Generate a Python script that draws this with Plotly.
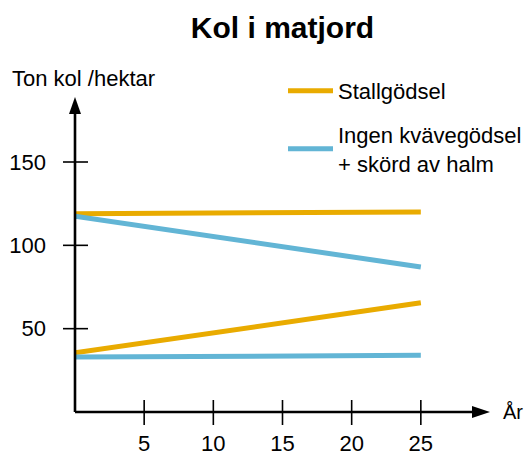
import plotly.graph_objects as go

# ---- data ----
years = [0, 25]
stallgodsel_upper = [119, 120]
stallgodsel_lower = [35.5, 65.5]
ingen_upper = [117.5, 87]
ingen_lower = [33, 34]
x_ticks = [5, 10, 15, 20, 25]
y_ticks = [50, 100, 150]
series_names = ["Stallgödsel", "Ingen kvävegödsel<br>+ skörd av halm"]

ORANGE = "#E9AB00"
BLUE = "#62B5D5"
FONT = "Liberation Sans, Arial, sans-serif"

fig = go.Figure()
fig.add_trace(go.Scatter(
    x=years + [None] + years,
    y=stallgodsel_upper + [None] + stallgodsel_lower,
    mode="lines", line=dict(color=ORANGE, width=5),
    name=series_names[0], legendgroup="a", connectgaps=False))
fig.add_trace(go.Scatter(
    x=years + [None] + years,
    y=ingen_upper + [None] + ingen_lower,
    mode="lines", line=dict(color=BLUE, width=5),
    name=series_names[1], legendgroup="b", connectgaps=False))

X_MAX = 30
Y_MAX = 189

# body margin removed below, figure drawn at (0, 0)
W, H = 526, 454
L, R, T, B = 75, 36, 97, 42
PW, PH = W - L - R, H - T - B
OFF = 0


def px_x(sx):  # screen x -> paper
    return (sx - OFF - L) / PW


def px_y(sy):  # screen y -> paper
    return (H - B - (sy - OFF)) / PH


shapes = []
for v in x_ticks:
    shapes.append(dict(type="line", xref="paper", yref="paper", x0=v / X_MAX, x1=v / X_MAX,
                       ysizemode="pixel", yanchor=0, y0=-13, y1=12,
                       line=dict(color="black", width=1.6)))
for v in y_ticks:
    shapes.append(dict(type="line", xref="paper", yref="paper", y0=v / Y_MAX, y1=v / Y_MAX,
                       xsizemode="pixel", xanchor=0, x0=-12, x1=13,
                       line=dict(color="black", width=1.6)))
shapes.append(dict(type="line", xref="paper", yref="paper", x0=0, x1=0.98, y0=0, y1=0,
                   line=dict(color="black", width=2.6)))
shapes.append(dict(type="line", xref="paper", yref="paper", x0=0, x1=0, y0=0, y1=0.98,
                   line=dict(color="black", width=2.6)))
shapes.append(dict(type="path", xref="paper", yref="paper", xsizemode="pixel", ysizemode="pixel",
                   xanchor=1, yanchor=0, path="M0,0 L-18,6 L-18,-6 Z",
                   fillcolor="black", line=dict(width=0)))
shapes.append(dict(type="path", xref="paper", yref="paper", xsizemode="pixel", ysizemode="pixel",
                   xanchor=0, yanchor=1, path="M0,0 L-6,-17 L6,-17 Z",
                   fillcolor="black", line=dict(width=0)))

fig.update_layout(
    width=W, height=H,
    margin=dict(l=L, r=R, t=T, b=B, autoexpand=False),
    paper_bgcolor="white", plot_bgcolor="white",
    font=dict(family=FONT, size=22, color="black"),
    title=dict(text="<b>Kol i matjord</b>", x=0.5, xref="paper", xanchor="center",
               y=1 - (27 - OFF) / H, yref="container", yanchor="middle",
               font=dict(size=30, family=FONT, color="black")),
    xaxis=dict(range=[0, X_MAX], tickvals=x_ticks, ticks="", showgrid=False,
               zeroline=False, showline=False, ticklabelstandoff=16,
               automargin=False, tickfont=dict(size=22)),
    yaxis=dict(range=[0, Y_MAX], tickvals=y_ticks, ticks="", showgrid=False,
               zeroline=False, showline=False, ticklabelstandoff=28,
               automargin=False, tickfont=dict(size=22)),
    shapes=shapes,
    showlegend=True,
    legend=dict(x=px_x(283), y=px_y(70), xanchor="left", yanchor="top",
                xref="paper", yref="paper",
                font=dict(size=22), tracegroupgap=12, itemwidth=45,
                bgcolor="rgba(0,0,0,0)"),
    annotations=[
        dict(text="Ton kol /hektar", xref="paper", yref="paper",
             x=px_x(10), y=px_y(78), xanchor="left", yanchor="middle",
             showarrow=False, font=dict(size=22)),
        dict(text="År", xref="paper", yref="paper", x=px_x(501), y=0,
             xanchor="left", yanchor="middle", showarrow=False, font=dict(size=20)),
    ],
)

fig.write_html(
    "out.html",
    config={"displayModeBar": False},
    post_script="document.body.style.margin='0';document.body.style.overflow='hidden';",
)
